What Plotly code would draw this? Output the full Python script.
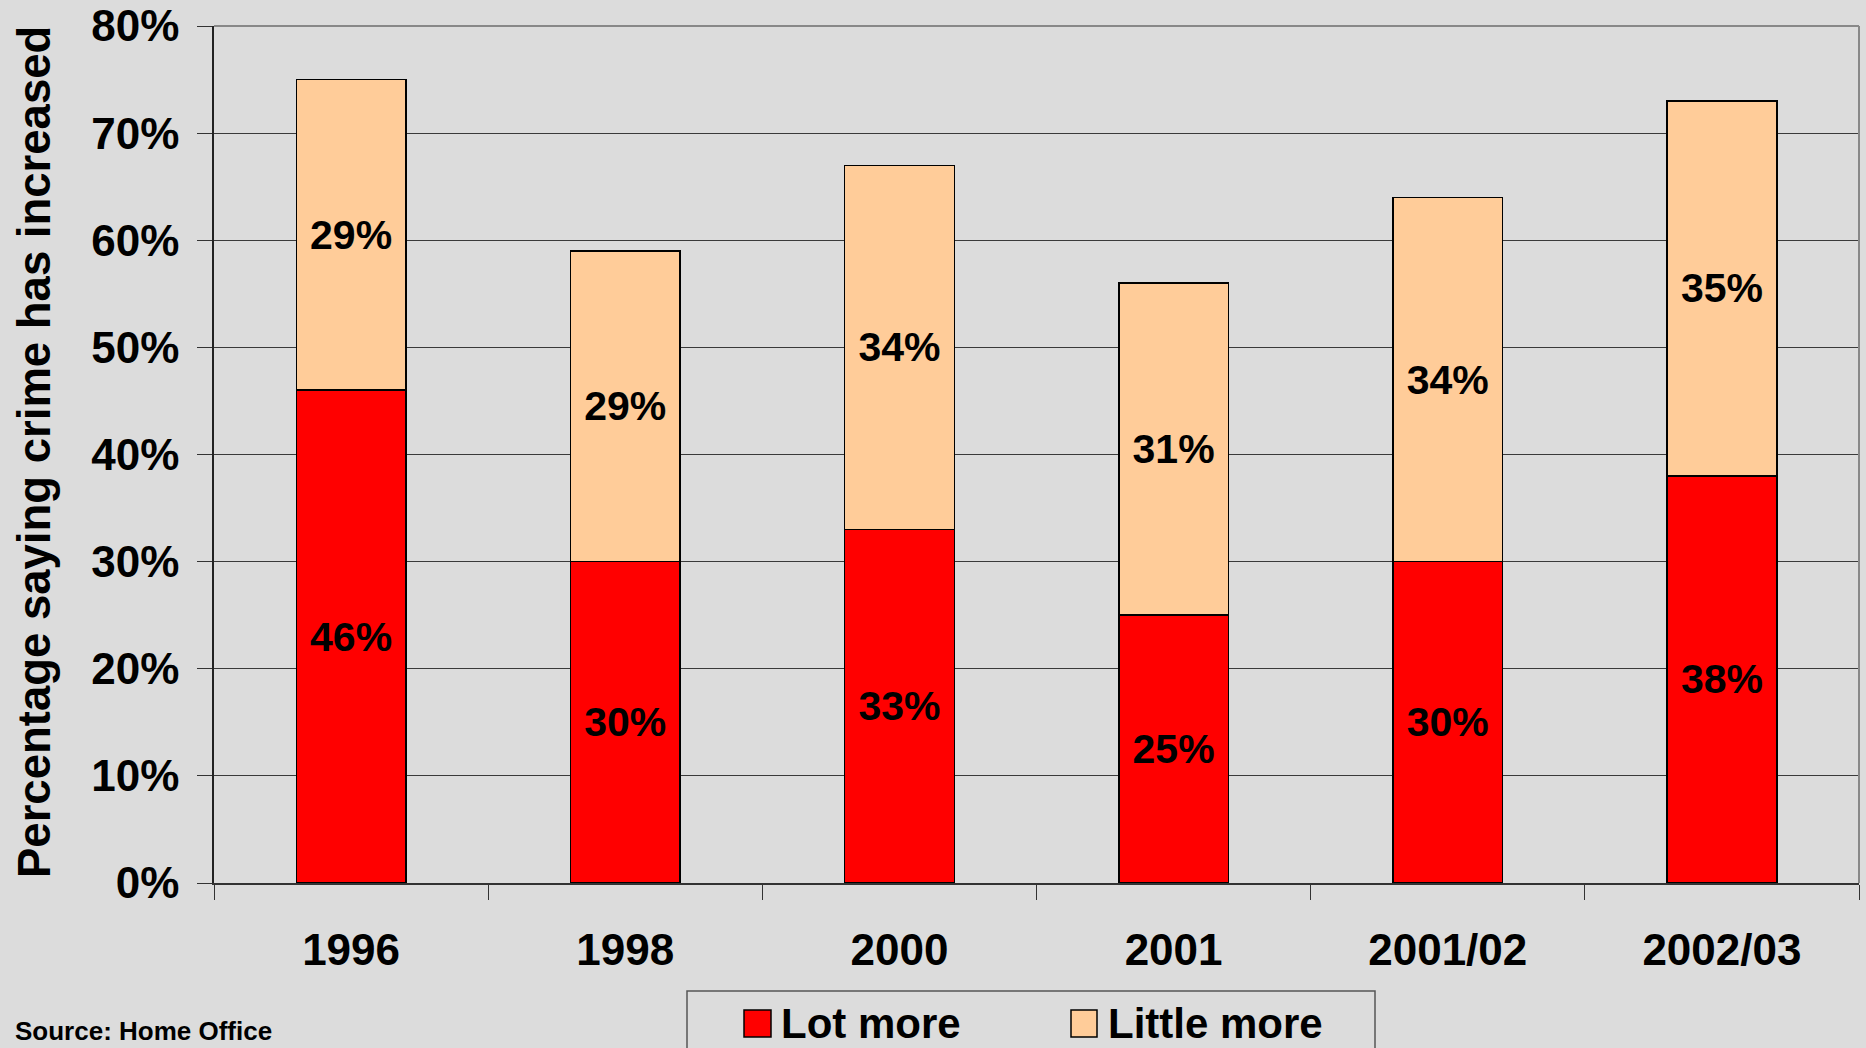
import plotly.graph_objects as go

# ---- data ----
years = ["1996", "1998", "2000", "2001", "2001/02", "2002/03"]
lot_more = [46, 30, 33, 25, 30, 38]
little_more = [29, 29, 34, 31, 34, 35]
series_names = ["Lot more", "Little more"]
y_ticks = [0, 10, 20, 30, 40, 50, 60, 70, 80]
y_tick_labels = [f"{v}%" for v in y_ticks]

# ---- style ----
W, H = 1866, 1048
L, R, T, B = 214, 1859, 26, 883
BG = "#DCDCDC"
RED = "#FF0000"
PEACH = "#FFCC99"
FONT = "Liberation Sans, Arial, sans-serif"

def px_x(x):
    return (x - L) / (R - L)

def px_y(y):
    return (B - y) / (B - T)

fig = go.Figure()
fig.add_trace(go.Bar(
    x=years, y=lot_more, name=series_names[0],
    marker=dict(color=RED, line=dict(color="#000000", width=1.5)),
    text=[f"{v}%" for v in lot_more], textposition="inside",
    insidetextanchor="middle", constraintext="none",
    textfont=dict(family=FONT, size=41, color="#000000", weight="bold"),
    showlegend=False, hoverinfo="skip",
))
fig.add_trace(go.Bar(
    x=years, y=little_more, name=series_names[1],
    marker=dict(color=PEACH, line=dict(color="#000000", width=1.5)),
    text=[f"{v}%" for v in little_more], textposition="inside",
    insidetextanchor="middle", constraintext="none",
    textfont=dict(family=FONT, size=41, color="#000000", weight="bold"),
    showlegend=False, hoverinfo="skip",
))

shapes = [
    # top and right frame in grey
    dict(type="line", xref="paper", yref="paper", x0=0, x1=1, y0=1, y1=1,
         line=dict(color="#888888", width=2), layer="above"),
    dict(type="line", xref="paper", yref="paper", x0=1, x1=1, y0=0, y1=1,
         line=dict(color="#888888", width=2), layer="above"),
    # legend box
    dict(type="rect", xref="paper", yref="paper",
         x0=px_x(687), x1=px_x(1375), y0=px_y(991), y1=px_y(1070),
         line=dict(color="#555555", width=1.5), fillcolor=BG, layer="above"),
    # legend swatches
    dict(type="rect", xref="paper", yref="paper",
         x0=px_x(744), x1=px_x(771), y0=px_y(1010), y1=px_y(1037),
         line=dict(color="#000000", width=1.5), fillcolor=RED, layer="above"),
    dict(type="rect", xref="paper", yref="paper",
         x0=px_x(1071), x1=px_x(1097), y0=px_y(1010), y1=px_y(1037),
         line=dict(color="#000000", width=1.5), fillcolor=PEACH, layer="above"),
]

annotations = [
    dict(text="Percentage saying crime has increased", textangle=-90,
         xref="paper", yref="paper", x=px_x(34), y=px_y(452),
         xanchor="center", yanchor="middle", showarrow=False,
         font=dict(family=FONT, size=45.5, color="#000000", weight="bold")),
    dict(text=series_names[0], xref="paper", yref="paper",
         x=px_x(779), y=px_y(1023), xanchor="left", yanchor="middle",
         showarrow=False,
         font=dict(family=FONT, size=42, color="#000000", weight="bold")),
    dict(text=series_names[1], xref="paper", yref="paper",
         x=px_x(1106), y=px_y(1023), xanchor="left", yanchor="middle",
         showarrow=False,
         font=dict(family=FONT, size=42, color="#000000", weight="bold")),
    dict(text="Source: Home Office", xref="paper", yref="paper",
         x=px_x(13), y=px_y(1031), xanchor="left", yanchor="middle",
         showarrow=False,
         font=dict(family=FONT, size=26, color="#000000", weight="bold")),
]

fig.update_layout(
    width=W, height=H,
    margin=dict(l=L, r=W - R, t=T, b=H - B, autoexpand=False),
    paper_bgcolor=BG, plot_bgcolor=BG,
    barmode="stack", bargap=0.6,
    showlegend=False,
    shapes=shapes, annotations=annotations,
    font=dict(family=FONT, color="#000000"),
)
fig.update_xaxes(
    type="category", showgrid=False,
    showline=True, linecolor="#333333", linewidth=1.5,
    ticks="outside", tickson="boundaries", ticklen=15, tickcolor="#333333", tickwidth=1,
    tickfont=dict(family=FONT, size=44, color="#000000", weight="bold"),
    ticklabelstandoff=27,
)
fig.update_yaxes(
    range=[0, 80], tickvals=y_ticks, ticktext=y_tick_labels,
    showgrid=True, gridcolor="#3A3A3A", gridwidth=1,
    zeroline=False,
    showline=True, linecolor="#222222", linewidth=1.5,
    ticks="outside", ticklen=15, tickcolor="#333333", tickwidth=1,
    tickfont=dict(family=FONT, size=44, color="#000000", weight="bold"),
    ticklabelstandoff=9,
)

fig.write_html(
    "out.html",
    config={"displayModeBar": False},
    post_script="document.body.style.margin='0';document.body.style.overflow='hidden';",
)
